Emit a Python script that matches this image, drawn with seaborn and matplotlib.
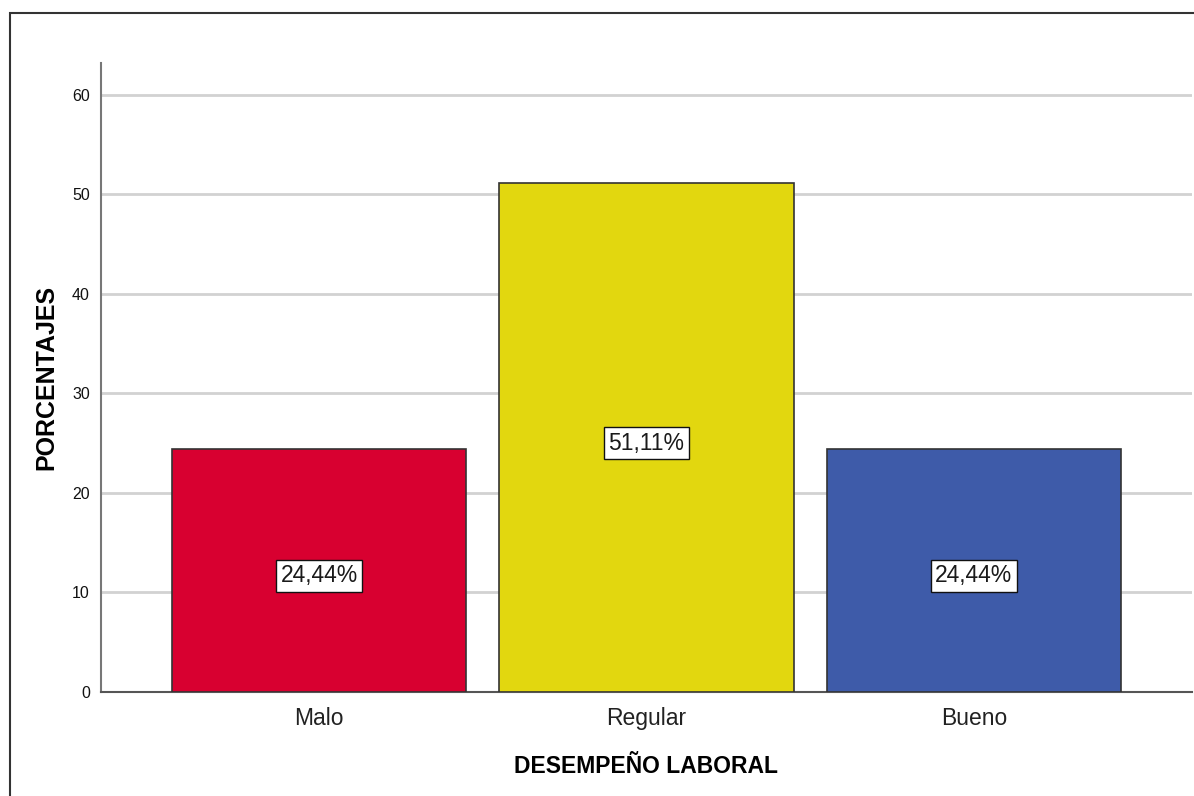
import matplotlib
matplotlib.use("Agg")
import matplotlib.pyplot as plt
import seaborn as sns
import pandas as pd

categories = ["Malo", "Regular", "Bueno"]
values = [24.44, 51.11, 24.44]
labels = ["24,44%", "51,11%", "24,44%"]
colors = ["#D80030", "#E2D70F", "#3E5BA9"]

sns.set_theme(style="white")
plt.rcParams['font.family'] = ['Liberation Sans', 'DejaVu Sans']

df = pd.DataFrame({"cat": categories, "val": values})

fig = plt.figure(figsize=(11.94, 7.96), dpi=100)
ax = fig.add_axes([101/1194, 1 - 692/796, (1192-101)/1194, (692-63)/796])

sns.barplot(data=df, x="cat", y="val", hue="cat", palette=colors, legend=False,
            width=0.9, edgecolor="#333333", linewidth=1.2, saturation=1, ax=ax, zorder=3)

ax.set_xlim(-0.666, 2.666)
ax.set_ylim(0, 63.2)
ax.set_yticks([0, 10, 20, 30, 40, 50, 60])
ax.yaxis.grid(True, color="#d2d2d2", linewidth=2, zorder=0)
ax.set_axisbelow(True)

for i, (v, lab) in enumerate(zip(values, labels)):
    ax.text(i, v / 2 - 0.55, lab, ha="center", va="center", fontsize=16.5, color="#1a1a1a",
            bbox=dict(boxstyle="square,pad=0.2", fc="white", ec="#111111", lw=1), zorder=5)

for s in ["top", "right"]:
    ax.spines[s].set_visible(False)
ax.spines["left"].set_color("#777777")
ax.spines["left"].set_linewidth(1.5)
ax.spines["bottom"].set_color("#555555")
ax.spines["bottom"].set_linewidth(1.5)

ax.tick_params(axis="y", length=0, labelsize=11.5, pad=8, labelcolor="#111111")
ax.tick_params(axis="x", length=0, labelsize=16.5, pad=11, labelcolor="#222222")

ax.set_xlabel("DESEMPEÑO LABORAL", fontsize=16.5, fontweight="bold", labelpad=18, color="black")
ax.set_ylabel("PORCENTAJES", fontsize=18, fontweight="bold", labelpad=10, color="black")

# outer frame
frame = plt.Rectangle((10/1194, -0.01), 1.02, 1 - 13/796 + 0.01, transform=fig.transFigure,
                      fill=False, ec="#333333", lw=1.5, clip_on=False)
fig.patches.append(frame)

fig.savefig("out.png", dpi=100)
